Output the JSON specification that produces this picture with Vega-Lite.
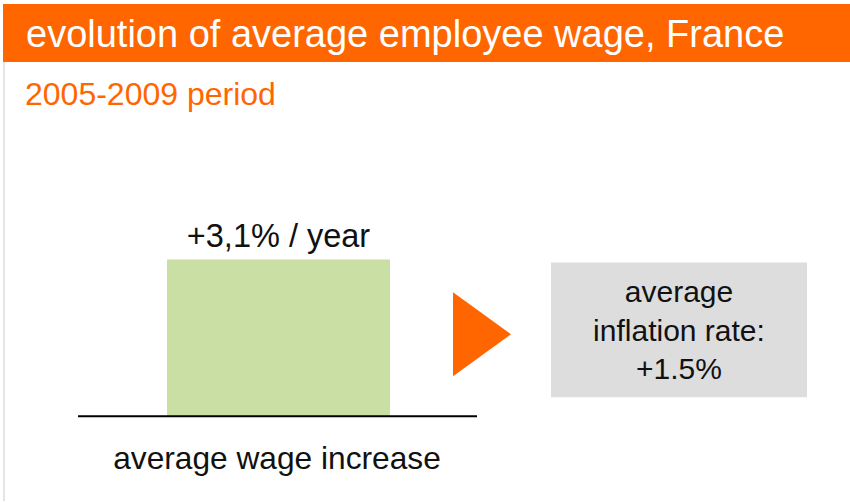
{
  "$schema": "https://vega.github.io/schema/vega-lite/v6.json",
  "width": 850,
  "height": 502,
  "autosize": {"type": "fit", "contains": "padding"},
  "padding": 0,
  "background": "white",
  "config": {"view": {"stroke": null}, "font": "Liberation Sans"},
  "datasets": {
    "header": [{"title": "evolution of average employee wage, France", "subtitle": "2005-2009 period"}],
    "wage": [{"measure": "average wage increase", "value": 3.1, "label": "+3,1% / year"}],
    "inflation": [{"measure": "average inflation rate", "value": 1.5, "label": "average\ninflation rate:\n+1.5%"}]
  },
  "layer": [
    {
      "layer": [
        {
          "data": {"name": "header"},
          "mark": {"type": "rect", "fill": "#FF6600"},
          "encoding": {
            "x": {"datum": 3, "type": "quantitative", "scale": {"domain": [0, 850], "nice": false, "zero": false}, "axis": null},
            "x2": {"datum": 850},
            "y": {"datum": 4, "type": "quantitative", "scale": {"domain": [502, 0], "nice": false, "zero": false}, "axis": null},
            "y2": {"datum": 62}
          }
        },
        {
          "data": {"name": "header"},
          "mark": {"type": "rule", "stroke": "#dddddd", "strokeWidth": 1.5},
          "encoding": {
            "x": {"datum": 4, "type": "quantitative"},
            "y": {"datum": 62, "type": "quantitative"},
            "y2": {"datum": 502}
          }
        },
        {
          "data": {"name": "header"},
          "mark": {"type": "text", "align": "left", "baseline": "alphabetic", "fontSize": 38, "color": "white"},
          "encoding": {
            "x": {"datum": 26, "type": "quantitative"},
            "y": {"datum": 47, "type": "quantitative"},
            "text": {"field": "title", "type": "nominal"}
          }
        },
        {
          "data": {"name": "header"},
          "mark": {"type": "text", "align": "left", "baseline": "alphabetic", "fontSize": 32, "color": "#FF6600"},
          "encoding": {
            "x": {"datum": 25, "type": "quantitative"},
            "y": {"datum": 105, "type": "quantitative"},
            "text": {"field": "subtitle", "type": "nominal"}
          }
        },
        {
          "data": {"name": "inflation"},
          "mark": {"type": "rect", "fill": "#dddddd"},
          "encoding": {
            "x": {"datum": 551, "type": "quantitative"},
            "x2": {"datum": 807},
            "y": {"datum": 263, "type": "quantitative"},
            "y2": {"datum": 398}
          }
        },
        {
          "data": {"name": "inflation"},
          "mark": {"type": "text", "align": "center", "baseline": "alphabetic", "fontSize": 30, "lineHeight": 38.5, "lineBreak": "\n", "color": "#111111"},
          "encoding": {
            "x": {"datum": 679, "type": "quantitative"},
            "y": {"datum": 303, "type": "quantitative"},
            "text": {"field": "label", "type": "nominal"}
          }
        },
        {
          "data": {"name": "inflation"},
          "mark": {"type": "point", "shape": "M-0.69,-1L0.69,0L-0.69,1Z", "size": 7056, "filled": true, "fill": "#FF6600", "opacity": 1, "strokeWidth": 0},
          "encoding": {
            "x": {"datum": 482, "type": "quantitative"},
            "y": {"datum": 335, "type": "quantitative"}
          }
        }
      ]
    },
    {
      "data": {"name": "wage"},
      "layer": [
        {
          "mark": {"type": "rect", "fill": "#C9DFA4"},
          "encoding": {
            "x": {"datum": 167, "type": "quantitative"},
            "x2": {"datum": 390},
            "y": {"field": "value", "type": "quantitative", "scale": {"domain": [-1.678, 8.234], "nice": false, "zero": false}, "axis": null},
            "y2": {"datum": 0}
          }
        },
        {
          "mark": {"type": "rule", "stroke": "black", "strokeWidth": 2},
          "encoding": {
            "x": {"datum": 78, "type": "quantitative"},
            "x2": {"datum": 477},
            "y": {"datum": 0, "type": "quantitative"}
          }
        },
        {
          "mark": {"type": "text", "align": "center", "baseline": "alphabetic", "fontSize": 32.5, "dy": -12, "color": "#111111"},
          "encoding": {
            "x": {"datum": 278.5, "type": "quantitative"},
            "y": {"field": "value", "type": "quantitative"},
            "text": {"field": "label", "type": "nominal"}
          }
        },
        {
          "mark": {"type": "text", "align": "center", "baseline": "alphabetic", "fontSize": 31.7, "dy": 53, "color": "#111111"},
          "encoding": {
            "x": {"datum": 277, "type": "quantitative"},
            "y": {"datum": 0, "type": "quantitative"},
            "text": {"field": "measure", "type": "nominal"}
          }
        }
      ]
    }
  ],
  "resolve": {"scale": {"y": "independent"}}
}
